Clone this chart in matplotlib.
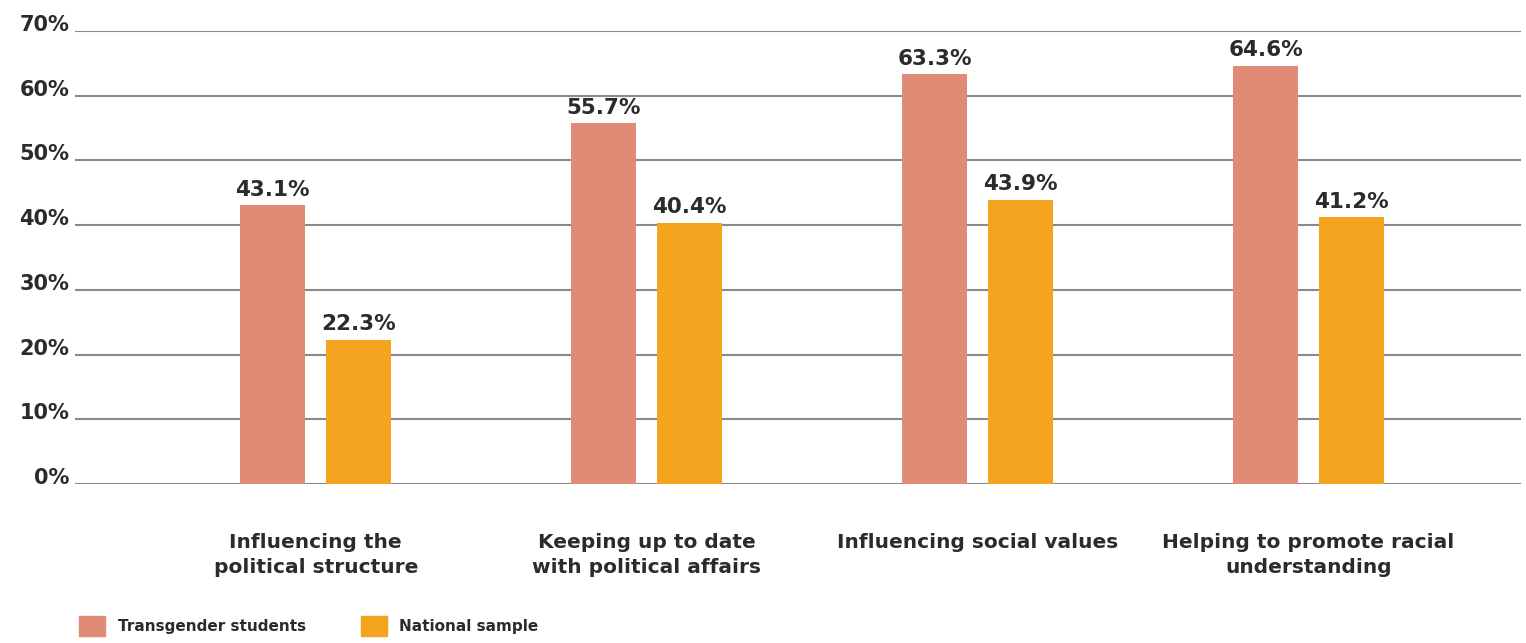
import numpy as np
import matplotlib.pyplot as plt
from matplotlib.patches import Patch

categories = ['Influencing the\npolitical structure',
              'Keeping up to date\nwith political affairs',
              'Influencing social values',
              'Helping to promote racial\nunderstanding']
transgender = [43.1, 55.7, 63.3, 64.6]
national = [22.3, 40.4, 43.9, 41.2]
series_names = ['Transgender students', 'National sample']
yticks = [0, 10, 20, 30, 40, 50, 60, 70]

c_trans = '#DF8B76'
c_nat = '#F4A41E'
txt = '#2b2b2b'
plt.rcParams['font.family'] = ['DejaVu Sans']

fig = plt.figure(figsize=(15.26, 6.43), dpi=100)
ax = fig.add_axes([0.049, 0.247, 0.948, 0.705])

x = np.arange(len(categories))
w = 0.196
off = 0.13
b1 = ax.bar(x - off, transgender, w, color=c_trans, zorder=3)
b2 = ax.bar(x + off, national, w, color=c_nat, zorder=3)

for bars, vals in [(b1, transgender), (b2, national)]:
    for b, v in zip(bars, vals):
        ax.annotate('%.1f%%' % v, (b.get_x() + b.get_width() / 2, v),
                    xytext=(0, 4), textcoords='offset points',
                    ha='center', va='bottom', fontsize=15.5, fontweight='bold', color=txt)

ax.set_xlim(-0.728, 3.643)
ax.set_ylim(0, 70)
ax.set_yticks(yticks)
ax.set_yticklabels(['%d%%' % t for t in yticks], fontsize=15, fontweight='bold', color=txt)
for lab in ax.get_yticklabels():
    lab.set_va('baseline')
ax.tick_params(axis='y', length=0, pad=4)
ax.yaxis.grid(True, color='#8a8a8a', linewidth=1.5, zorder=0)
ax.set_xticks(x)
ax.set_xticklabels(categories, fontsize=14.5, fontweight='bold', color=txt, va='top', linespacing=1.4)
ax.tick_params(axis='x', length=0, pad=35)
for s in ax.spines.values():
    s.set_visible(False)

handles = [Patch(color=c_trans), Patch(color=c_nat)]
leg = fig.legend(handles, series_names, loc='lower left', bbox_to_anchor=(0.043, -0.011),
                 ncol=2, frameon=False, handlelength=1.7, handleheight=1.7,
                 columnspacing=3.6, handletextpad=0.8,
                 prop={'weight': 'bold', 'size': 11})
for t in leg.get_texts():
    t.set_color(txt)

fig.savefig('out.png', dpi=100)
